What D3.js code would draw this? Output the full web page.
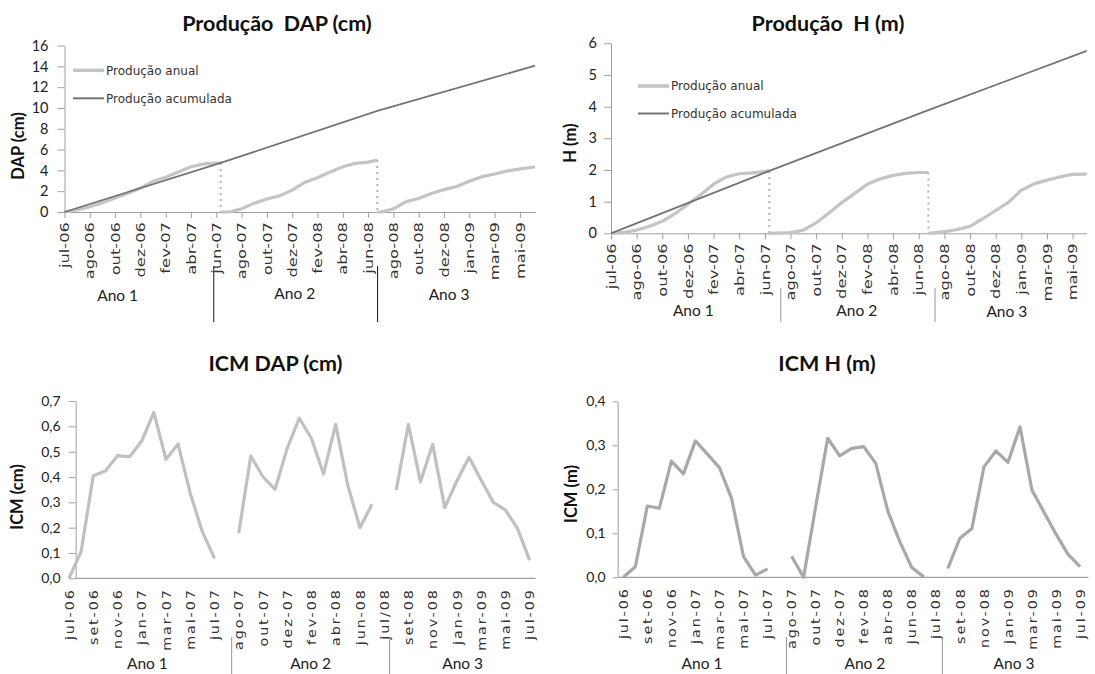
<!DOCTYPE html>
<html><head><meta charset="utf-8">
<script src="https://cdn.jsdelivr.net/npm/d3@7"></script>
<style>
body{margin:0;background:#fff}
svg{display:block}
.tick line,.domain{stroke:#a0a0a0}
</style>
</head><body>
<svg id="c" width="1095" height="674"></svg>
<script>
// ---------- data ----------
// month positions (one unit = one month step of the category axis); labels every second step
const rotulosProducao = ["jul-06","ago-06","out-06","dez-06","fev-07","abr-07","jun-07","ago-07","out-07","dez-07","fev-08","abr-08","jun-08","ago-08","out-08","dez-08","jan-09","mar-09","mai-09"];

// year boundaries (month positions) of the DAP production chart
const limitesAnoDap = [0, 12.35, 24.73, 37.2];
const dapAnualAno1 = [0, 0.2, 0.5, 0.9, 1.35, 1.8, 2.3, 2.95, 3.35, 3.85, 4.35, 4.62, 4.7, 4.72];
const dapAnualAno2 = [0, 0, 0.3, 0.85, 1.25, 1.55, 2.1, 2.85, 3.3, 3.85, 4.35, 4.68, 4.8, 5.0];
const dapAnualAno3 = [0, 0, 0.3, 1.0, 1.3, 1.78, 2.15, 2.45, 2.95, 3.4, 3.65, 3.95, 4.15, 4.3, 4.35];
const dapAcumulada = [0, 4.72, 9.72, 14.07];

// year boundaries of the H production chart
const limitesAnoH = [0, 12.35, 24.75, 37.1];
const hAnualAno1 = [0, 0.03, 0.1, 0.22, 0.38, 0.62, 0.92, 1.22, 1.55, 1.78, 1.88, 1.91, 1.95, 1.97];
const hAnualAno2 = [0, 0.01, 0.02, 0.1, 0.33, 0.64, 0.97, 1.26, 1.55, 1.72, 1.83, 1.89, 1.92, 1.92];
const hAnualAno3 = [0, 0.01, 0.05, 0.12, 0.22, 0.46, 0.72, 0.98, 1.36, 1.56, 1.68, 1.78, 1.86, 1.87, 1.87];
const hAcumulada = [0, 1.97, 3.89, 5.76];

// monthly increment (ICM), one value per category, gaps between years
const rotulosIcmDap = ["jul-06","set-06","nov-06","jan-07","mar-07","mai-07","jul-07","ago-07","out-07","dez-07","fev-08","abr-08","jun-08","jul/08","set-08","nov-08","jan-09","mar-09","mai-09","jul-09"];
const rotulosIcmH   = ["jul-06","set-06","nov-06","jan-07","mar-07","mai-07","jul-07","ago-07","out-07","dez-07","fev-08","abr-08","jun-08","jul-08","set-08","nov-08","jan-09","mar-09","mai-09","jul-09"];
const icmDap = [0.0, 0.105, 0.405, 0.424, 0.484, 0.48, 0.542, 0.655, 0.47, 0.53, 0.336, 0.184, 0.079, null,
                0.178, 0.483, 0.401, 0.351, 0.513, 0.632, 0.553, 0.412, 0.608, 0.368, 0.2, 0.292, null,
                0.349, 0.608, 0.381, 0.529, 0.279, 0.384, 0.478, 0.388, 0.3, 0.27, 0.197, 0.072];
const icmH = [0.0, 0.024, 0.162, 0.157, 0.264, 0.235, 0.31, 0.28, 0.249, 0.18, 0.047, 0.005, 0.019, null,
              0.048, 0.0, 0.16, 0.316, 0.276, 0.293, 0.297, 0.259, 0.151, 0.081, 0.022, 0.001, null,
              0.02, 0.089, 0.111, 0.251, 0.287, 0.261, 0.342, 0.198, 0.148, 0.098, 0.052, 0.024];

const anos = ["Ano 1", "Ano 2", "Ano 3"];
const legenda = ["Produção anual", "Produção acumulada"];

// ---------- styles ----------
const COR_ANUAL = "#c4c4c4", COR_ACUM = "#747474", COR_EIXO = "#a0a0a0";
const FONTE_TICK = "'DejaVu Sans', sans-serif";
const FONTE_TIT = "Lato, 'Open Sans', sans-serif";
const virgula = d3.format(".1f");

const svg = d3.select("#c");

function titulo(g, txt, x, y) {
  g.append("text").attr("x", x).attr("y", y).attr("text-anchor", "middle")
    .attr("font-family", FONTE_TIT).attr("font-weight", 700).attr("font-size", 21.5)
    .style("white-space", "pre").attr("fill", "#111").text(txt);
}
function tituloY(g, txt, x, y) {
  g.append("text").attr("transform", `translate(${x},${y}) rotate(-90)`)
    .attr("text-anchor", "middle").attr("dy", "0.35em")
    .attr("font-family", FONTE_TIT).attr("font-weight", 700).attr("font-size", 16.5)
    .attr("fill", "#111").text(txt);
}
function rotularX(axisG, offset, stretch, spacing) {
  axisG.selectAll(".tick text")
    .attr("x", null).attr("y", null).attr("dy", "0.36em")
    .attr("text-anchor", "end")
    .attr("transform", `translate(0,${offset}) rotate(-90) scale(${stretch},1)`)
    .attr("font-family", FONTE_TICK).attr("font-size", 11.5)
    .attr("letter-spacing", spacing).attr("fill", "#333");
}
function grupos(g, x, cfg) {
  cfg.seps.forEach(s => g.append("line")
    .attr("x1", x(s)).attr("x2", x(s)).attr("y1", cfg.sepY[0]).attr("y2", cfg.sepY[1])
    .attr("stroke", cfg.sepCor).attr("stroke-width", 1));
  anos.forEach((a, i) => g.append("text")
    .attr("x", x(cfg.anoX[i])).attr("y", cfg.anoY[i]).attr("text-anchor", "middle")
    .attr("dy", "0.35em").attr("font-family", FONTE_TIT).attr("font-size", 15.5)
    .attr("fill", "#222").text(a));
}
function legendaProducao(g, x0, y0, dy) {
  [COR_ANUAL, COR_ACUM].forEach((c, i) => {
    g.append("line").attr("x1", x0).attr("x2", x0 + 31).attr("y1", y0 + i * dy).attr("y2", y0 + i * dy)
      .attr("stroke", c).attr("stroke-width", i ? 2 : 3.5);
    g.append("text").attr("x", x0 + 33).attr("y", y0 + i * dy).attr("dy", "0.36em")
      .attr("font-family", FONTE_TICK).attr("font-size", 12).attr("fill", "#333").text(legenda[i]);
  });
}

// ---------- production charts ----------
function producao(cfg) {
  const g = svg.append("g");
  const x = d3.scaleLinear().domain([0, cfg.limites[3]]).range(cfg.xr);
  const y = d3.scaleLinear().domain(cfg.yd).range(cfg.yr);

  const ax = g.append("g").attr("transform", `translate(0,${cfg.yr[0]})`)
    .call(d3.axisBottom(x).tickValues(d3.range(0, 37, 2))
      .tickFormat((d, i) => rotulosProducao[i]).tickSize(6).tickSizeOuter(0));
  ax.select(".domain").attr("stroke", COR_EIXO);
  rotularX(ax, cfg.lblOff, 1.42, 0);

  const ay = g.append("g").attr("transform", `translate(${cfg.xr[0]},0)`)
    .call(d3.axisLeft(y).ticks(cfg.nt).tickSize(7).tickSizeOuter(0).tickPadding(cfg.tp));
  ay.select(".domain").attr("stroke", COR_EIXO);
  ay.selectAll(".tick text").attr("font-family", FONTE_TIT).attr("font-size", 14.5).attr("fill", "#222");

  const line = d3.line().x(d => x(d[0])).y(d => y(d[1]));
  cfg.anual.forEach((vals, k) => {
    const a = cfg.limites[k], b = cfg.limites[k + 1];
    const pos = [a, ...d3.range(Math.floor(a) + 1, Math.ceil(b)), b];
    const pts = vals.map((v, i) => [pos[i], v]);
    g.append("path").datum(pts).attr("d", line).attr("fill", "none")
      .attr("stroke", COR_ANUAL).attr("stroke-width", 3.2).attr("stroke-linejoin", "round");
    if (k < 2) {
      g.append("path").datum([[b, vals[vals.length - 1]], [b, 0]]).attr("d", line)
        .attr("stroke", "#b5b5b5").attr("stroke-width", 2).attr("stroke-dasharray", "2,4");
    }
  });
  const acum = cfg.acum.map((v, i) => [cfg.limites[i], v]);
  g.append("path").datum(acum).attr("d", line).attr("fill", "none")
    .attr("stroke", COR_ACUM).attr("stroke-width", 1.8);

  titulo(g, cfg.titulo, cfg.titX, 31);
  tituloY(g, cfg.tituloY, cfg.tyX, cfg.tyY);
  legendaProducao(g, cfg.legX, cfg.legY, cfg.legDy);
  grupos(g, x, cfg);
}

producao({
  limites: limitesAnoDap, anual: [dapAnualAno1, dapAnualAno2, dapAnualAno3], acum: dapAcumulada,
  xr: [64.5, 535.1], yd: [0, 16], yr: [212, 45.6], nt: 8, tp: 9, lblOff: 10,
  titulo: "Produção  DAP (cm)", titX: 277, tituloY: "DAP (cm)", tyX: 18, tyY: 146,
  legX: 73, legY: 70.3, legDy: 28,
  seps: [11.8, 24.75], sepY: [266, 322], sepCor: "#111",
  anoX: [4.2, 18.2, 30.4], anoY: [296, 294, 295]
});
producao({
  limites: limitesAnoH, anual: [hAnualAno1, hAnualAno2, hAnualAno3], acum: hAcumulada,
  xr: [611, 1086.7], yd: [0, 6], yr: [233.3, 43.3], nt: 6, tp: 7, lblOff: 10,
  titulo: "Produção  H (m)", titX: 828, tituloY: "H (m)", tyX: 570, tyY: 143,
  legX: 638, legY: 86, legDy: 27.5,
  seps: [13.24, 25.27], sepY: [288, 322], sepCor: "#999",
  anoX: [6.42, 19.17, 30.87], anoY: [311, 311, 312]
});

// ---------- ICM charts ----------
function icm(cfg) {
  const g = svg.append("g");
  const x = d3.scaleLinear().domain([0, 38]).range(cfg.xr);
  const y = d3.scaleLinear().domain(cfg.yd).range(cfg.yr);
  const x0 = x(cfg.eixoX[0]), x1 = x(cfg.eixoX[1]);

  // category axis (labels only, every second category)
  const ax = g.append("g").attr("transform", `translate(0,${cfg.yr[0]})`)
    .call(d3.axisBottom(x).tickValues(d3.range(0, 39, 2))
      .tickFormat((d, i) => cfg.rotulos[i]).tickSize(0));
  ax.select(".domain").remove();
  rotularX(ax, cfg.lblOff, 1.25, 1.5);
  g.append("line").attr("x1", x0).attr("x2", x1).attr("y1", cfg.yr[0]).attr("y2", cfg.yr[0])
    .attr("stroke", COR_EIXO).attr("stroke-width", 1.2);

  const ay = g.append("g").attr("transform", `translate(${x0},0)`)
    .call(d3.axisLeft(y).tickValues(d3.range(0, cfg.yd[1] + 1e-9, 0.1))
      .tickFormat(d => virgula(d).replace(".", ",")).tickSize(cfg.tk).tickSizeOuter(0).tickPadding(cfg.tp));
  ay.select(".domain").attr("stroke", COR_EIXO);
  ay.selectAll(".tick text").attr("font-family", FONTE_TIT).attr("font-size", 14).attr("fill", "#222");

  const line = d3.line().defined(d => d != null).x((d, i) => x(i)).y(d => y(d));
  g.append("path").datum(cfg.valores).attr("d", line).attr("fill", "none")
    .attr("stroke", cfg.cor).attr("stroke-width", 3.2).attr("stroke-linejoin", "round");

  titulo(g, cfg.titulo, cfg.titX, 371);
  tituloY(g, cfg.tituloY, cfg.tyX, cfg.tyY);
  grupos(g, x, cfg);
}

icm({
  valores: icmDap, rotulos: rotulosIcmDap, cor: "#c0c0c0",
  xr: [69, 529.6], eixoX: [0.55, 38.5], yd: [0, 0.7], yr: [578.3, 401], tk: 7, tp: 8, lblOff: 10,
  titulo: "ICM DAP (cm)", titX: 275.5, tituloY: "ICM (cm)", tyX: 17, tyY: 497,
  seps: [13.42, 26.45], sepY: [637, 674], sepCor: "#999",
  anoX: [6.47, 19.93, 32.48], anoY: [664, 664, 664]
});
icm({
  valores: icmH, rotulos: rotulosIcmH, cor: "#a8a8a8",
  xr: [623.3, 1080.1], eixoX: [-0.47, 38.7], yd: [0, 0.4], yr: [577.3, 401.3], tk: 5, tp: 7, lblOff: 10,
  titulo: "ICM H (m)", titX: 827, tituloY: "ICM (m)", tyX: 571, tyY: 494,
  seps: [13.58, 26.54], sepY: [637, 674], sepCor: "#999",
  anoX: [6.55, 20.1, 32.5], anoY: [664, 664, 664]
});
</script>
</body></html>
